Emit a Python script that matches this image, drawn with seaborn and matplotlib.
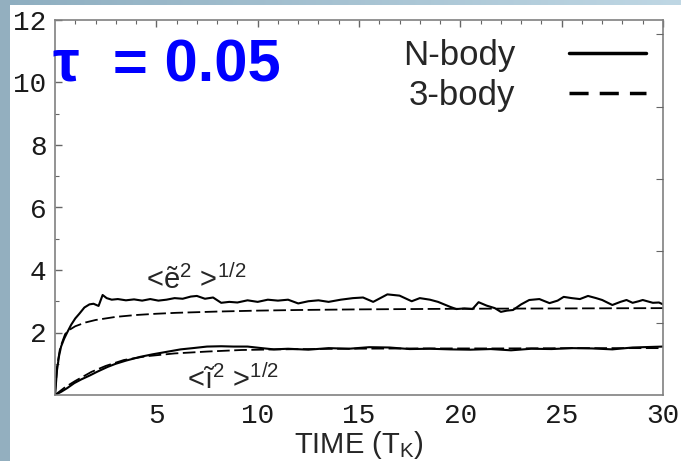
import numpy as np
import pandas as pd
import matplotlib
matplotlib.use("Agg")
import matplotlib.pyplot as plt
from matplotlib.lines import Line2D
from matplotlib.patches import Rectangle
import seaborn as sns

# Podaci ocitani sa slike (vreme u T_K)
t_e_nbody = [0, 0.1, 0.2, 0.3, 0.45, 0.6, 0.8, 1.0, 1.2, 1.45, 1.7, 1.9, 2.15, 2.35, 2.55, 2.8,
             3.1, 3.5, 3.9, 4.3, 4.7, 5.1, 5.5, 5.9, 6.3, 6.7, 7.0, 7.4, 7.8, 8.2, 8.6, 9.0, 9.5,
             10.0, 10.5, 11.0, 11.5, 12.0, 12.5, 13.0, 13.5, 14.1, 14.7, 15.2, 15.7, 16.4, 17.0,
             17.6, 18.0, 18.5, 18.9, 19.5, 19.8, 20.2, 20.6, 20.9, 21.3, 21.7, 22.0, 22.3, 22.6,
             23.0, 23.4, 23.9, 24.4, 24.8, 25.1, 25.5, 25.9, 26.3, 26.7, 27.0, 27.5, 27.9, 28.2,
             28.5, 28.8, 29.0, 29.5, 29.8, 30.0]
e_nbody = [0, 0.8, 1.25, 1.55, 1.8, 2.0, 2.25, 2.45, 2.6, 2.8, 2.9, 2.92, 2.85, 3.2, 3.1, 3.05,
           3.07, 3.03, 3.06, 3.02, 3.07, 3.02, 3.05, 3.1, 3.08, 3.15, 3.17, 3.08, 3.12, 2.95, 2.98,
           2.96, 3.03, 2.98, 3.05, 3.02, 3.05, 2.93, 3.0, 3.03, 2.98, 3.05, 3.1, 3.12, 2.98, 3.22,
           3.18, 3.0, 3.1, 3.05, 2.98, 2.82, 2.75, 2.77, 2.75, 2.97, 2.86, 2.78, 2.66, 2.7, 2.72,
           2.9, 3.04, 3.07, 2.94, 3.02, 3.14, 3.1, 3.07, 3.17, 3.1, 3.04, 2.88, 2.98, 3.04, 2.95,
           3.0, 3.04, 2.95, 2.96, 2.9]

t_e_3body = [0, 0.1, 0.25, 0.5, 0.75, 1.0, 1.5, 2, 3, 4, 5, 6, 8, 10, 12, 15, 20, 25, 30]
e_3body = [0, 0.9, 1.5, 1.95, 2.1, 2.2, 2.32, 2.4, 2.5, 2.56, 2.6, 2.63, 2.67, 2.7, 2.72, 2.74,
           2.76, 2.77, 2.78]

t_i_nbody = [0, 0.3, 0.6, 0.95, 1.3, 1.7, 2.1, 2.6, 3.0, 3.5, 4.2, 4.8, 5.5, 6.2, 6.8, 7.5, 8.2,
             8.8, 9.5, 10.2, 10.8, 11.5, 12.5, 13.5, 14.5, 15.5, 16.5, 17.5, 18.5, 19.5, 20.5,
             21.5, 22.5, 23.5, 24.5, 25.5, 26.5, 27.5, 28.5, 29.5, 30]
i_nbody = [0, 0.1, 0.22, 0.38, 0.5, 0.62, 0.75, 0.9, 1.0, 1.1, 1.22, 1.3, 1.38, 1.46, 1.5, 1.55,
           1.56, 1.55, 1.55, 1.5, 1.46, 1.48, 1.45, 1.5, 1.48, 1.53, 1.52, 1.47, 1.48, 1.46, 1.45,
           1.47, 1.43, 1.48, 1.47, 1.5, 1.49, 1.46, 1.52, 1.54, 1.55]

t_i_3body = [0, 0.5, 1, 1.8, 2.5, 3.4, 4.5, 5.9, 7.5, 9.2, 11, 14, 18, 22, 26, 30]
i_3body = [0, 0.25, 0.45, 0.74, 0.93, 1.12, 1.24, 1.33, 1.39, 1.44, 1.46, 1.48, 1.49, 1.49, 1.5, 1.5]

x_ticks = [5, 10, 15, 20, 25, 30]
y_ticks = [2, 4, 6, 8, 10, 12]
legend_labels = ['N-body', '3-body']

sns.set_style('white')
plt.rcParams['font.family'] = ['Liberation Sans', 'DejaVu Sans']
plt.rcParams['mathtext.fontset'] = 'custom'
plt.rcParams['mathtext.rm'] = 'Liberation Sans'
plt.rcParams['mathtext.it'] = 'Liberation Sans'

fig = plt.figure(figsize=(6.81, 4.61), dpi=100, facecolor='white')

# Pozadina kao na slajdu (traka levo i gradijent gore)
fig.patches.append(Rectangle((0, 0), 10 / 681, 1, transform=fig.transFigure,
                             facecolor='#93afbf', edgecolor='none', zorder=0))
bg = fig.add_axes([0, 1 - 5 / 461, 1, 5 / 461])
bg.imshow(np.linspace(0, 1, 256).reshape(1, -1), aspect='auto',
          cmap=matplotlib.colors.LinearSegmentedColormap.from_list('g', ['#8eaec0', '#bfd7e4']))
bg.axis('off')

ax = fig.add_axes([55 / 681, 66 / 461, 608 / 681, 375 / 461])

sns.lineplot(x=t_e_nbody, y=e_nbody, ax=ax, color='black', lw=1.5, sort=False)
sns.lineplot(x=t_i_nbody, y=i_nbody, ax=ax, color='black', lw=1.5, sort=False)
sns.lineplot(x=t_e_3body, y=e_3body, ax=ax, color='black', lw=1.3, sort=False)
sns.lineplot(x=t_i_3body, y=i_3body, ax=ax, color='black', lw=1.3, sort=False)
for ln in ax.lines[2:]:
    ln.set_dashes((7, 2.5))

ax.set_xlim(0, 30)
ax.set_ylim(0, 12)
ax.set_xticks(x_ticks)
ax.set_yticks(y_ticks)
ax.set_xticks(np.arange(1, 30), minor=True)
ax.set_yticks(np.arange(1, 12, 2), minor=True)
ax.tick_params(which='both', direction='in', top=True, right=False, color='#666666')
ax.tick_params(which='major', length=5, width=1)
ax.tick_params(which='minor', length=3, width=0.8)
ax.tick_params(axis='both', labelsize=20, labelcolor='#1a1a1a', pad=6)
for lab in ax.get_xticklabels() + ax.get_yticklabels():
    lab.set_fontfamily('Liberation Mono')
for sp in ax.spines.values():
    sp.set_color('#808080')
    sp.set_linewidth(1.2)

# desna osa ima drugaciji raspored crtica
ax2 = ax.twinx()
ax2.set_ylim(0, 5.2)
ax2.set_yticks([1, 2, 3, 4, 5])
ax2.tick_params(direction='in', length=5, color='#666666', labelright=False)
for sp in ax2.spines.values():
    sp.set_visible(False)

ax.set_xlabel(r'TIME (T$_\mathrm{K}$)', fontsize=21, labelpad=-0.5)

ax.text(4.5, 3.4, '<ẽ$^2$ >$^{1/2}$', fontsize=21, va='baseline')
ax.text(6.5, 0.2, '<ĩ$^2$ >$^{1/2}$', fontsize=21, va='baseline')

handles = [Line2D([], [], color='black', lw=2.5),
           Line2D([], [], color='black', lw=2.5, dashes=(5.5, 3.2))]
ax.legend(handles, legend_labels, loc='upper right', bbox_to_anchor=(1.0, 0.995),
          frameon=False, markerfirst=False, fontsize=25, handlelength=2.2,
          handletextpad=1.55, labelspacing=0.2, borderpad=0)

fig.text(53 / 681, (461 - 82) / 461, 'τ  = 0.05', color='#0000ff', fontsize=43,
         fontweight='bold', va='baseline', ha='left')

fig.savefig('out.png', dpi=100)
